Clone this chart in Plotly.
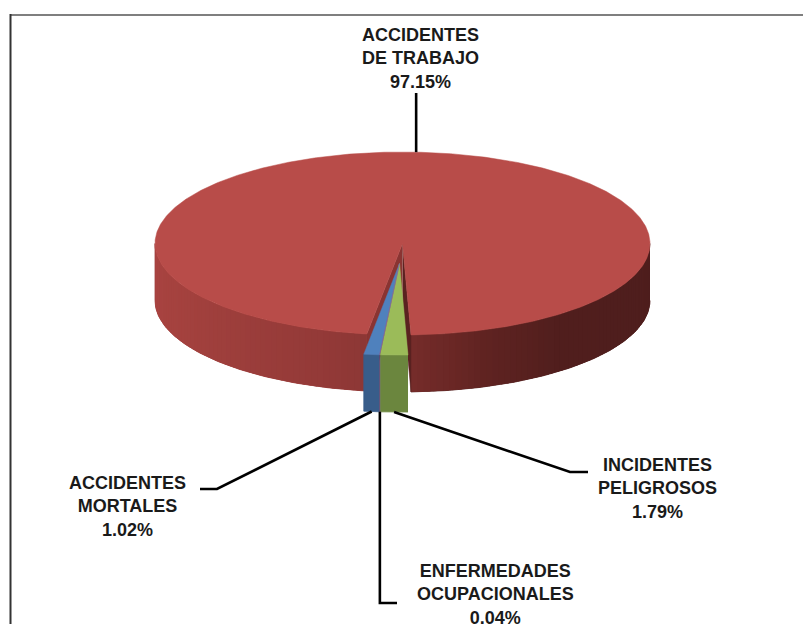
import numpy as np
import plotly.graph_objects as go

# ---------------- data ----------------
categories = ["ACCIDENTES MORTALES", "ACCIDENTES DE TRABAJO",
              "INCIDENTES PELIGROSOS", "ENFERMEDADES OCUPACIONALES"]
values = [1.02, 97.15, 1.79, 0.04]
exploded = [True, False, True, True]

# ---------------- style / layout ----------------
top_colors = ["#4F81BD", "#B84C49", "#9BBB59", "#8064A2"]
side_colors = ["#385D8A", None, "#6B863E", "#5C4776"]
CX, CY, A, B, DEPTH = 402.5, 243.5, 247.5, 91.5, 57.0
START = 184.62        # degrees clockwise from 12 o'clock
EXPLODE = 0.22
W, H = 803, 624

# label placement: (center x, center y of text block, leader elbow, leader end)
label_pos = {
    "ACCIDENTES MORTALES": (127, 506, (217, 489), (200, 489)),
    "ACCIDENTES DE TRABAJO": (420, 58, None, (None, 93)),
    "INCIDENTES PELIGROSOS": (657, 488, (570, 472), (588, 472)),
    "ENFERMEDADES OCUPACIONALES": (495, 594, (None, 603), (397, 603)),
}

# red side shading as a function of angle
shade_ang = [90, 140, 160, 178, 188, 200, 240, 270]
shade_rgb = [(78, 30, 29), (80, 30, 29), (95, 35, 33), (118, 44, 42),
             (140, 55, 53), (148, 58, 56), (163, 65, 62), (170, 68, 65)]


def pt(t, ox=0.0, oy=0.0, dz=0.0):
    r = np.radians(t)
    return CX + ox + A * np.sin(r), CY + oy - B * np.cos(r) + dz


def shade(t):
    t = t % 360
    rgb = [np.interp(t, shade_ang, [c[k] for c in shade_rgb]) for k in range(3)]
    return "rgb(%d,%d,%d)" % tuple(int(round(v)) for v in rgb)


def poly(xs, ys, color, lw=0.8):
    return go.Scatter(x=list(xs), y=list(ys), mode="lines", fill="toself",
                      fillcolor=color, line=dict(color=color, width=lw),
                      hoverinfo="skip", showlegend=False)


def visible(t0, t1):
    out = []
    for k in range(-1, 3):
        lo, hi = 90 + 360 * k, 270 + 360 * k
        a, b = max(t0, lo), min(t1, hi)
        if b > a:
            out.append((a, b))
    return out


vals = np.array(values, dtype=float)
spans = vals / vals.sum() * 360.0
t_start = START + np.concatenate([[0], np.cumsum(spans)[:-1]])
t_end = t_start + spans
t_mid = (t_start + t_end) / 2

# common explosion direction for the exploded group
vx = sum(v * np.sin(np.radians(m)) for v, m, e in zip(vals, t_mid, exploded) if e)
vy = sum(v * np.cos(np.radians(m)) for v, m, e in zip(vals, t_mid, exploded) if e)
gdir = np.arctan2(vx, vy)
OX, OY = EXPLODE * A * np.sin(gdir), -EXPLODE * B * np.cos(gdir)

traces = []


def band(a0, a1, ox, oy, n=6):
    ts = np.linspace(a0, a1, n)
    top = [pt(t, ox, oy) for t in ts]
    bot = [pt(t, ox, oy, DEPTH) for t in ts[::-1]]
    pts = top + bot
    return [p[0] for p in pts], [p[1] for p in pts]


def side_traces(i, ox, oy, strip=None):
    res = []
    for (a0, a1) in visible(t_start[i], t_end[i]):
        if strip is None:
            xs, ys = band(a0, a1, ox, oy, 40)
            res.append(poly(xs, ys, side_colors[i]))
        else:
            xs, ys = band(a0, a1, ox, oy, 80)
            res.append(poly(xs, ys, shade((a0 + a1) / 2), lw=0.8))
            n = max(1, int(np.ceil((a1 - a0) / strip)))
            edges = np.linspace(a0, a1, n + 1)
            for s0, s1 in zip(edges[:-1], edges[1:]):
                e1 = min(a1, s1 + strip * 0.6)
                xs, ys = band(s0, e1, ox, oy)
                res.append(go.Scatter(x=xs, y=ys, mode="lines", fill="toself",
                                      fillcolor=shade((s0 + s1) / 2),
                                      line=dict(width=0), hoverinfo="skip",
                                      showlegend=False))
    return res


def top_trace(i, ox, oy):
    ts = np.linspace(t_start[i], t_end[i], max(3, int(spans[i] * 2)))
    pts = [(CX + ox, CY + oy)] + [pt(t, ox, oy) for t in ts] + [(CX + ox, CY + oy)]
    return poly([p[0] for p in pts], [p[1] for p in pts], top_colors[i], lw=0.5)


# non-exploded slice(s) first
for i in range(len(values)):
    if exploded[i]:
        continue
    traces += side_traces(i, 0, 0, strip=1.5)
    for t, col in [(t_end[i], "#5a2220"), (t_start[i], "#8a3432")]:
        p1 = pt(t)
        pts = [(CX, CY), p1, (p1[0], p1[1] + DEPTH), (CX, CY + DEPTH)]
        traces.append(poly([p[0] for p in pts], [p[1] for p in pts], col, lw=0.5))
    traces.append(top_trace(i, 0, 0))

for i in range(len(values)):
    if exploded[i]:
        traces += side_traces(i, OX, OY)
for i in range(len(values)):
    if exploded[i]:
        traces.append(top_trace(i, OX, OY))

# leader lines + labels
annotations = []
for i, cat in enumerate(categories):
    lx, ly, elbow, end = label_pos[cat]
    if exploded[i]:
        sx, sy = pt(t_mid[i], OX, OY, DEPTH)
    else:
        sx, sy = pt(t_mid[i])
    xs, ys = [sx], [sy]
    if elbow is not None:
        ex = sx if elbow[0] is None else elbow[0]
        xs.append(ex); ys.append(elbow[1])
    xe = xs[-1] if end[0] is None else end[0]
    xs.append(xe); ys.append(end[1])
    traces.append(go.Scatter(x=xs, y=ys, mode="lines",
                             line=dict(color="#000000", width=2.6),
                             hoverinfo="skip", showlegend=False))
    first, rest = cat.split(" ", 1)
    txt = "<b>%s<br>%s<br>%.2f%%</b>" % (first, rest, values[i])
    annotations.append(dict(x=lx, y=ly, xref="x", yref="y", text=txt,
                            showarrow=False, align="center",
                            xanchor="center", yanchor="middle",
                            font=dict(family="Liberation Sans, Arial", size=18,
                                      color="#1a1a1a")))

fig = go.Figure(traces)
fig.update_layout(
    width=W, height=H, autosize=False,
    margin=dict(l=0, r=0, t=0, b=0),
    paper_bgcolor="white", plot_bgcolor="white",
    xaxis=dict(range=[0, W], visible=False, fixedrange=True),
    yaxis=dict(range=[H, 0], visible=False, fixedrange=True),
    annotations=annotations,
    shapes=[
        dict(type="line", xref="x", yref="y", x0=10, x1=W + 5, y0=15, y1=15,
             line=dict(color="#7f7f7f", width=2)),
        dict(type="line", xref="x", yref="y", x0=10.5, x1=10.5, y0=14, y1=H + 5,
             line=dict(color="#333333", width=2)),
    ],
    showlegend=False,
)
fig.write_html("out.html")
